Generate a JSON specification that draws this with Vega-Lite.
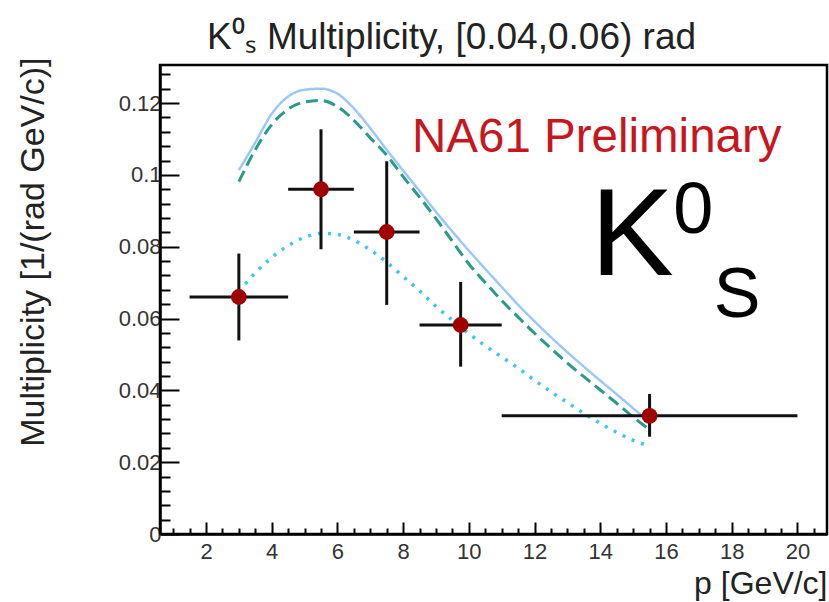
{
  "$schema": "https://vega.github.io/schema/vega-lite/v6.json",
  "width": 667,
  "height": 469,
  "autosize": {"type": "none"},
  "padding": {"left": 160, "top": 65, "right": 2, "bottom": 68},
  "background": "white",
  "config": {
    "view": {"stroke": "black", "strokeWidth": 2.5},
    "font": "Liberation Sans"
  },
  "title": {
    "text": "K⁰ₛ Multiplicity, [0.04,0.06) rad",
    "anchor": "start",
    "frame": "group",
    "dx": 47,
    "offset": 0,
    "fontSize": 37,
    "font": "Liberation Sans",
    "fontWeight": "normal",
    "color": "#222"
  },
  "datasets": {
    "points": [
      {"p": 3.0, "m": 0.0660, "p_lo": 1.5, "p_hi": 4.5, "m_lo": 0.0539, "m_hi": 0.0781},
      {"p": 5.5, "m": 0.0960, "p_lo": 4.5, "p_hi": 6.5, "m_lo": 0.0793, "m_hi": 0.1127},
      {"p": 7.5, "m": 0.0841, "p_lo": 6.5, "p_hi": 8.5, "m_lo": 0.0638, "m_hi": 0.1038},
      {"p": 9.75, "m": 0.0582, "p_lo": 8.5, "p_hi": 11.0, "m_lo": 0.0466, "m_hi": 0.0702},
      {"p": 15.5, "m": 0.0329, "p_lo": 11.0, "p_hi": 20.0, "m_lo": 0.0271, "m_hi": 0.0390}
    ],
    "curves": [
      {"model": "solid", "p": 3.0, "m": 0.1013},
      {"model": "solid", "p": 3.5, "m": 0.1090},
      {"model": "solid", "p": 4.0, "m": 0.1170},
      {"model": "solid", "p": 4.5, "m": 0.1218},
      {"model": "solid", "p": 5.0, "m": 0.1237},
      {"model": "solid", "p": 5.5, "m": 0.1240},
      {"model": "solid", "p": 6.0, "m": 0.1226},
      {"model": "solid", "p": 6.5, "m": 0.1185},
      {"model": "solid", "p": 7.0, "m": 0.1130},
      {"model": "solid", "p": 7.5, "m": 0.1070},
      {"model": "solid", "p": 8.0, "m": 0.1012},
      {"model": "solid", "p": 8.5, "m": 0.0955},
      {"model": "solid", "p": 9.0, "m": 0.0897},
      {"model": "solid", "p": 9.5, "m": 0.0842},
      {"model": "solid", "p": 10.0, "m": 0.0789},
      {"model": "solid", "p": 10.5, "m": 0.0738},
      {"model": "solid", "p": 11.0, "m": 0.0688},
      {"model": "solid", "p": 11.5, "m": 0.0638},
      {"model": "solid", "p": 12.0, "m": 0.0592},
      {"model": "solid", "p": 12.5, "m": 0.0548},
      {"model": "solid", "p": 13.0, "m": 0.0506},
      {"model": "solid", "p": 13.5, "m": 0.0466},
      {"model": "solid", "p": 14.0, "m": 0.0427},
      {"model": "solid", "p": 14.5, "m": 0.0389},
      {"model": "solid", "p": 15.0, "m": 0.0350},
      {"model": "solid", "p": 15.5, "m": 0.0311},
      {"model": "dashed", "p": 3.0, "m": 0.0981},
      {"model": "dashed", "p": 3.5, "m": 0.1070},
      {"model": "dashed", "p": 4.0, "m": 0.1140},
      {"model": "dashed", "p": 4.5, "m": 0.1183},
      {"model": "dashed", "p": 5.0, "m": 0.1203},
      {"model": "dashed", "p": 5.5, "m": 0.1207},
      {"model": "dashed", "p": 6.0, "m": 0.1190},
      {"model": "dashed", "p": 6.5, "m": 0.1152},
      {"model": "dashed", "p": 7.0, "m": 0.1103},
      {"model": "dashed", "p": 7.5, "m": 0.1055},
      {"model": "dashed", "p": 8.0, "m": 0.0995},
      {"model": "dashed", "p": 8.5, "m": 0.0938},
      {"model": "dashed", "p": 9.0, "m": 0.0878},
      {"model": "dashed", "p": 9.5, "m": 0.0815},
      {"model": "dashed", "p": 10.0, "m": 0.0752},
      {"model": "dashed", "p": 10.5, "m": 0.0700},
      {"model": "dashed", "p": 11.0, "m": 0.0650},
      {"model": "dashed", "p": 11.5, "m": 0.0604},
      {"model": "dashed", "p": 12.0, "m": 0.0559},
      {"model": "dashed", "p": 12.5, "m": 0.0517},
      {"model": "dashed", "p": 13.0, "m": 0.0476},
      {"model": "dashed", "p": 13.5, "m": 0.0438},
      {"model": "dashed", "p": 14.0, "m": 0.0401},
      {"model": "dashed", "p": 14.5, "m": 0.0364},
      {"model": "dashed", "p": 15.0, "m": 0.0326},
      {"model": "dashed", "p": 15.5, "m": 0.0290},
      {"model": "dotted", "p": 3.0, "m": 0.0675},
      {"model": "dotted", "p": 3.5, "m": 0.0727},
      {"model": "dotted", "p": 4.0, "m": 0.0770},
      {"model": "dotted", "p": 4.5, "m": 0.0803},
      {"model": "dotted", "p": 5.0, "m": 0.0826},
      {"model": "dotted", "p": 5.5, "m": 0.0837},
      {"model": "dotted", "p": 6.0, "m": 0.0834},
      {"model": "dotted", "p": 6.5, "m": 0.0818},
      {"model": "dotted", "p": 7.0, "m": 0.0791},
      {"model": "dotted", "p": 7.5, "m": 0.0757},
      {"model": "dotted", "p": 8.0, "m": 0.0717},
      {"model": "dotted", "p": 8.5, "m": 0.0677},
      {"model": "dotted", "p": 9.0, "m": 0.0634},
      {"model": "dotted", "p": 9.5, "m": 0.0595},
      {"model": "dotted", "p": 10.0, "m": 0.0558},
      {"model": "dotted", "p": 10.5, "m": 0.0524},
      {"model": "dotted", "p": 11.0, "m": 0.0493},
      {"model": "dotted", "p": 11.5, "m": 0.0462},
      {"model": "dotted", "p": 12.0, "m": 0.0428},
      {"model": "dotted", "p": 12.5, "m": 0.0396},
      {"model": "dotted", "p": 13.0, "m": 0.0366},
      {"model": "dotted", "p": 13.5, "m": 0.0336},
      {"model": "dotted", "p": 14.0, "m": 0.0308},
      {"model": "dotted", "p": 14.5, "m": 0.0283},
      {"model": "dotted", "p": 15.0, "m": 0.0261},
      {"model": "dotted", "p": 15.5, "m": 0.0245}
    ]
  },
  "layer": [
    {
      "data": {"name": "curves"},
      "mark": {"type": "line", "interpolate": "monotone", "clip": true},
      "encoding": {
        "x": {
          "field": "p",
          "type": "quantitative",
          "scale": {"domain": [0.6, 20.9], "nice": false, "zero": false},
          "axis": {
            "values": [1, 1.5, 2, 2.5, 3, 3.5, 4, 4.5, 5, 5.5, 6, 6.5, 7, 7.5, 8, 8.5, 9, 9.5, 10, 10.5, 11, 11.5, 12, 12.5, 13, 13.5, 14, 14.5, 15, 15.5, 16, 16.5, 17, 17.5, 18, 18.5, 19, 19.5, 20, 20.5],
            "tickCount": 200,
            "labelExpr": "datum.value % 2 === 0 ? format(datum.value, 'd') : ''",
            "tickSize": {"condition": {"test": "datum.value % 2 === 0", "value": -12}, "value": -6},
            "tickWidth": 2,
            "tickColor": "black",
            "domainColor": "black",
            "domainWidth": 2.5,
            "grid": false,
            "labelFontSize": 22,
            "labelFont": "Liberation Sans",
            "labelColor": "#333",
            "labelPadding": 19,
            "labelFlush": false,
            "labelOverlap": false,
            "title": "p [GeV/c]",
            "titleFont": "Liberation Sans",
            "titleFontSize": 32,
            "titleFontWeight": "normal",
            "titleColor": "#222",
            "titleAlign": "right",
            "titleBaseline": "alphabetic",
            "titleX": 667,
            "titleY": 59
          }
        },
        "y": {
          "field": "m",
          "type": "quantitative",
          "scale": {"domain": [0, 0.1306], "nice": false, "zero": false},
          "axis": {
            "values": [0, 0.004, 0.008, 0.012, 0.016, 0.02, 0.024, 0.028, 0.032, 0.036, 0.04, 0.044, 0.048, 0.052, 0.056, 0.06, 0.064, 0.068, 0.072, 0.076, 0.08, 0.084, 0.088, 0.092, 0.096, 0.1, 0.104, 0.108, 0.112, 0.116, 0.12, 0.124, 0.128],
            "tickCount": 200,
            "labelExpr": "abs(datum.value * 50 - round(datum.value * 50)) < 0.001 ? format(datum.value, '~g') : ''",
            "tickSize": {"condition": {"test": "abs(datum.value * 50 - round(datum.value * 50)) < 0.001", "value": -19}, "value": -10},
            "tickWidth": 2,
            "tickColor": "black",
            "domainColor": "black",
            "domainWidth": 2.5,
            "grid": false,
            "labelFontSize": 22,
            "labelFont": "Liberation Sans",
            "labelColor": "#333",
            "labelPadding": 18,
            "labelOverlap": false,
            "labelFlush": false,
            "title": "Multiplicity [1/(rad GeV/c)]",
            "titleFont": "Liberation Sans",
            "titleFontSize": 34,
            "titleFontWeight": "normal",
            "titleColor": "#222",
            "titleAngle": -90,
            "titleAlign": "right",
            "titleBaseline": "middle",
            "titleX": -127,
            "titleY": -8
          }
        },
        "color": {
          "field": "model",
          "type": "nominal",
          "scale": {"domain": ["solid", "dashed", "dotted"], "range": ["#9cc9f4", "#2a9a8c", "#3cc6f2"]},
          "legend": null
        },
        "strokeDash": {
          "field": "model",
          "type": "nominal",
          "scale": {"domain": ["solid", "dashed", "dotted"], "range": [[1, 0], [12, 6], [3, 7]]},
          "legend": null
        },
        "strokeWidth": {
          "field": "model",
          "type": "nominal",
          "scale": {"domain": ["solid", "dashed", "dotted"], "range": [2.5, 3.5, 3.5]},
          "legend": null
        }
      }
    },
    {
      "data": {"name": "points"},
      "mark": {"type": "rule", "color": "#111", "strokeWidth": 3},
      "encoding": {
        "x": {"field": "p_lo", "type": "quantitative"},
        "x2": {"field": "p_hi"},
        "y": {"field": "m", "type": "quantitative"}
      }
    },
    {
      "data": {"name": "points"},
      "mark": {"type": "rule", "color": "#111", "strokeWidth": 3},
      "encoding": {
        "x": {"field": "p", "type": "quantitative"},
        "y": {"field": "m_lo", "type": "quantitative"},
        "y2": {"field": "m_hi"}
      }
    },
    {
      "data": {"name": "points"},
      "mark": {"type": "point", "shape": "circle", "filled": true, "color": "#a00000", "opacity": 1, "size": 250},
      "encoding": {
        "x": {"field": "p", "type": "quantitative"},
        "y": {"field": "m", "type": "quantitative"}
      }
    },
    {
      "data": {"values": [{}]},
      "mark": {"type": "text", "align": "left", "baseline": "alphabetic", "font": "Liberation Sans", "fontSize": 47.5, "color": "#c8161e"},
      "encoding": {
        "x": {"datum": 8.27},
        "y": {"datum": 0.1063},
        "text": {"value": "NA61 Preliminary"}
      }
    },
    {
      "data": {"values": [{}]},
      "mark": {"type": "text", "align": "left", "baseline": "alphabetic", "font": "Liberation Sans", "fontSize": 125, "color": "black"},
      "encoding": {
        "x": {"datum": 13.7},
        "y": {"datum": 0.0721},
        "text": {"value": "K"}
      }
    },
    {
      "data": {"values": [{}]},
      "mark": {"type": "text", "align": "left", "baseline": "alphabetic", "font": "Liberation Sans", "fontSize": 72, "color": "black"},
      "encoding": {
        "x": {"datum": 16.22},
        "y": {"datum": 0.0839},
        "text": {"value": "0"}
      }
    },
    {
      "data": {"values": [{}]},
      "mark": {"type": "text", "align": "left", "baseline": "alphabetic", "font": "Liberation Sans", "fontSize": 70, "color": "black"},
      "encoding": {
        "x": {"datum": 17.45},
        "y": {"datum": 0.0605},
        "text": {"value": "S"}
      }
    }
  ]
}
